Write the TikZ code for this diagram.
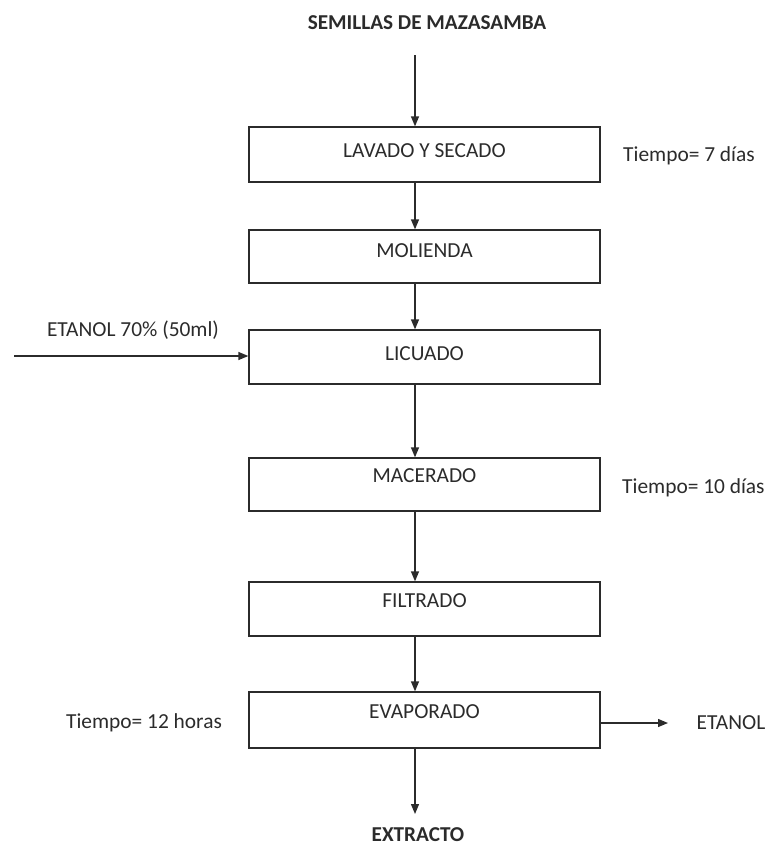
\documentclass[tikz,border=0pt]{standalone}
\usepackage{fontspec}
\setmainfont{Carlito}
\usetikzlibrary{arrows.meta}
\definecolor{ink}{HTML}{2B2B2B}
\begin{document}
\begin{tikzpicture}[x=1pt,y=-1pt,
  box/.style={draw=ink,line width=1.3pt,minimum width=351pt,inner sep=0pt,text=ink},
  lbl/.style={text=ink,font=\fontsize{21.4}{25}\selectfont,inner sep=0pt},
  blbl/.style={text=ink,font=\bfseries\fontsize{21.2}{25}\selectfont,inner sep=0pt},
  arr/.style={draw=ink,line width=1.3pt,-{Triangle[length=10pt,width=8pt]}}]
\useasboundingbox (0,0) rectangle (770,846);
\node[box,minimum height=55pt] (b1) at (424.5,154.5) {};
\node[lbl] at (424.5,151) {LAVADO Y SECADO};
\node[box,minimum height=53pt] (b2) at (424.5,256.5) {};
\node[lbl] at (424.5,251) {MOLIENDA};
\node[box,minimum height=54pt] (b3) at (424.5,357) {};
\node[lbl] at (424.5,354) {LICUADO};
\node[box,minimum height=53pt] (b4) at (424.5,484.5) {};
\node[lbl] at (424.5,476) {MACERADO};
\node[box,minimum height=54pt] (b5) at (424.5,609) {};
\node[lbl] at (424.5,601) {FILTRADO};
\node[box,minimum height=56pt] (b6) at (424.5,720) {};
\node[lbl] at (424.5,712) {EVAPORADO};
\coordinate (ax) at (415,0);
\node[blbl] (top) at (427,23) {SEMILLAS DE MAZASAMBA};
\node[blbl] (ext) at (418,835) {EXTRACTO};
\node[lbl,anchor=west] (t1) at (623,156) {Tiempo= 7 días};
\node[lbl,anchor=west] (t2) at (622,488) {Tiempo= 10 días};
\node[lbl] (t3) at (144,723) {Tiempo= 12 horas};
\node[lbl] (et1) at (133,330) {ETANOL 70\% (50ml)};
\node[lbl] (et2) at (731,723) {ETANOL};
\coordinate (s0) at (415,55);
\coordinate (in) at (14,356);
\coordinate (out) at (668,723);
\coordinate (end) at (415,814);
\draw[arr] (s0) -- (b1.north -| s0);
\draw[arr] (b1.south -| ax) -- (b2.north -| ax);
\draw[arr] (b2.south -| ax) -- (b3.north -| ax);
\draw[arr] (b3.south -| ax) -- (b4.north -| ax);
\draw[arr] (b4.south -| ax) -- (b5.north -| ax);
\draw[arr] (b5.south -| ax) -- (b6.north -| ax);
\draw[arr] (b6.south -| ax) -- (end);
\draw[arr] (in) -- (b3.west |- in);
\draw[arr] (b6.east |- out) -- (out);
\end{tikzpicture}
\end{document}
